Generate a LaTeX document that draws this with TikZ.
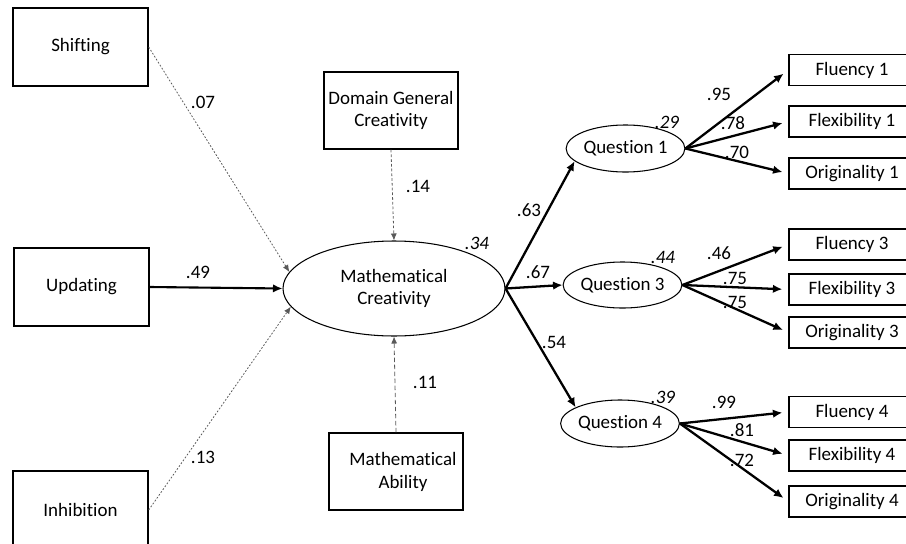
\documentclass[tikz,border=0pt]{standalone}
\usepackage{fontspec}
\setmainfont[Ligatures=NoCommon]{Carlito}
\usetikzlibrary{arrows.meta,shapes.geometric}

\begin{document}
\begin{tikzpicture}[every node/.style={font=\fontsize{10.8}{13}\selectfont},
      obs/.style={draw,line width=0.8pt,minimum width=2.7cm,minimum height=1.56cm,align=center,inner sep=1pt},
      ind/.style={draw,line width=0.7pt,minimum width=2.52cm,minimum height=0.62cm,inner sep=1pt},
      lat/.style={draw,ellipse,line width=0.6pt,inner sep=0pt,align=center},
      path/.style={line width=1.3pt,-{Latex[length=1.9mm,width=1.7mm]}},
      weak/.style={line width=0.45pt,gray!70!black,dash pattern=on 1pt off 1pt,-{Latex[length=1.4mm,width=1.2mm]}},
      wdash/.style={weak,dash pattern=on 2.5pt off 1.5pt},
      r2/.style={font=\fontsize{10.8}{13}\selectfont\itshape}]
    \useasboundingbox (0,0) rectangle (18.12,-10.88);
    \node[obs] (shift) at (1.61,-0.94) {Shifting};
    \node[obs] (upd) at (1.63,-5.74) {Updating};
    \node[obs] (inhib) at (1.61,-10.2) {Inhibition};
    \node[obs,minimum width=2.68cm,minimum height=1.54cm] (dgc) at (7.82,-2.21) {Domain General\\Creativity};
    \node[obs,minimum width=2.68cm,minimum height=1.54cm] (mab) at (7.92,-9.43) {};
    \node[align=center,inner sep=0pt] (mabtxt) at (8.06,-9.44) {Mathematical\\Ability};
    \node[lat,minimum width=4.44cm,minimum height=1.9cm] (mc) at (7.88,-5.77) {Mathematical\\Creativity};
    \node[lat,minimum width=1.94cm,minimum height=0.94cm] (q1) at (12.51,-2.97) {Question 1};
    \node[lat,minimum width=1.98cm,minimum height=0.92cm] (q3) at (12.45,-5.70) {Question 3};
    \node[lat,minimum width=1.88cm,minimum height=0.94cm] (q4) at (12.40,-8.47) {Question 4};
    \foreach \n/\y/\t in {fl1/-1.40/Fluency 1,fx1/-2.43/Flexibility 1,or1/-3.47/Originality 1,
                          fl3/-4.89/Fluency 3,fx3/-5.79/Flexibility 3,or3/-6.65/Originality 3,
                          fl4/-8.24/Fluency 4,fx4/-9.11/Flexibility 4,or4/-10.03/Originality 4}
      \node[ind] (\n) at (17.04,\y) {\t};
    % predictors
    \draw[weak] (shift.east) -- (mc.171);
    \draw[path,line width=1.2pt] (upd.east) -- (mc.west);
    \draw[weak] (inhib.east) -- (mc.190);
    \draw[wdash,dash pattern=on 1.5pt off 1.2pt] (dgc.south) -- (mc.north);
    \draw[wdash] (mab.north) -- (mc.south);
    % structural paths
    \draw[path] (mc.east) -- (q1.194);
    \draw[path] (mc.east) -- (q3.west);
    \draw[path] (mc.east) -- (q4.160);
    \foreach \q/\b in {q1/fl1,q1/fx1,q1/or1,q3/fl3,q3/fx3,q3/or3,q4/fl4,q4/fx4,q4/or4}
      \draw[path,shorten >=1.2mm] (\q.east) -- (\b.west);
    \foreach \n/\x/\y/\t in {l07/4.06/-2.04/.07,l49/3.96/-5.44/.49,l13/4.06/-9.14/.13,
                             l14/8.36/-3.72/.14,l11/8.50/-7.64/.11,
                             l63/10.58/-4.20/.63,l67/10.76/-5.44/.67,l54/11.08/-6.84/.54,
                             l95/14.38/-1.88/.95,l78/14.66/-2.46/.78,l70/14.74/-3.04/.70,
                             l46/14.38/-5.06/.46,l75a/14.70/-5.56/.75,l75b/14.70/-6.04/.75,
                             l99/14.48/-8.04/.99,l81/14.84/-8.60/.81,l72/14.84/-9.20/.72}
      \node (\n) at (\x,\y) {\t};
    \foreach \n/\x/\y/\t in {r34/9.54/-4.86/.34,r29/13.34/-2.44/.29,r44/13.26/-5.14/.44,r39/13.26/-7.94/.39}
      \node[r2] (\n) at (\x,\y) {\t};
\end{tikzpicture}
\end{document}
